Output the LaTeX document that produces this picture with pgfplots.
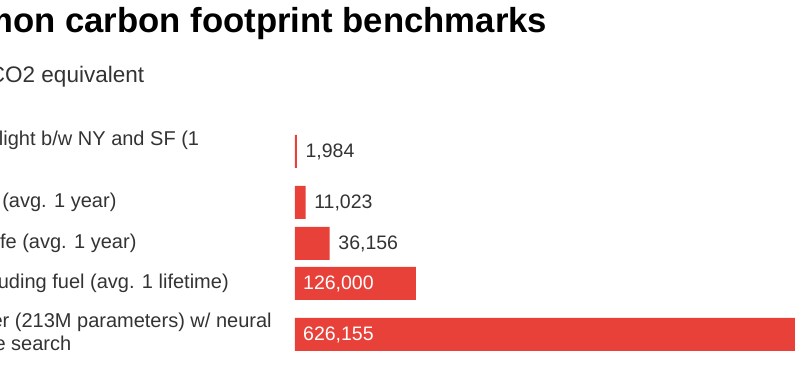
\documentclass[border=0pt]{standalone}
\usepackage{fontspec}
\setmainfont{Liberation Sans}
\usepackage{pgfplots}
\pgfplotsset{compat=1.18}
\usepackage{pgfplotstable}
\definecolor{barred}{HTML}{E8413A}
\definecolor{txt}{HTML}{333333}

\pgfplotstableread{
pos value
233.5 1984
182.5 11023
141.5 36156
101.5 126000
50.5 626155
}\bars

\pgfplotstableread{
pos value lab
233.5 1984 {1,984}
182.5 11023 {11,023}
141.5 36156 {36,156}
}\outside

\pgfplotstableread{
pos value lab
101.5 0 {126,000}
50.5 0 {626,155}
}\inside

\begin{document}
\begin{tikzpicture}[x=1pt,y=1pt]
\useasboundingbox (0,0) rectangle (795,385);
\clip (0,0) rectangle (795,385);
\node[anchor=base west, inner sep=0pt, font=\bfseries\fontsize{34.7}{40}\selectfont] at (-95,352) {Common carbon footprint benchmarks};
\node[anchor=base west, inner sep=0pt, text=txt, font=\fontsize{22.5}{26}\selectfont] at (-95,302) {in lbs of CO2 equivalent};
\begin{axis}[
  at={(295pt,0pt)}, anchor=south west,
  scale only axis, width=672pt, height=385pt,
  xmin=0, xmax=700000, ymin=0, ymax=385,
  clip=false,
  axis line style={draw=none}, tick style={draw=none},
  xtick=\empty,
  ytick={53,101.5,141.5,182.5,233.5},
  yticklabels={{Transformer (213M parameters) w/ neural\\architecture search},
    {US car including fuel (avg. 1 lifetime)},
    {American life (avg. 1 year)},
    {Human life (avg. 1 year)},
    {Roundtrip flight b/w NY and SF (1\\passenger)}},
  yticklabel style={anchor=west, align=left, inner sep=0pt, xshift=-394pt, text=txt,
    font=\fontsize{20}{22.5}\selectfont},
]
\addplot[xbar, bar width=33pt, fill=barred, draw=none] table[x=value, y=pos] {\bars};
\addplot[draw=none, mark=none, nodes near coords, point meta=explicit symbolic,
  nodes near coords style={anchor=west, inner sep=0pt, xshift=8.5pt, text=txt, font=\fontsize{19.5}{22}\selectfont}]
  table[x=value, y=pos, meta=lab] {\outside};
\addplot[draw=none, mark=none, nodes near coords, point meta=explicit symbolic,
  nodes near coords style={anchor=west, inner sep=0pt, xshift=8pt, text=white, font=\fontsize{19.5}{22}\selectfont}]
  table[x=value, y=pos, meta=lab] {\inside};
\end{axis}
\end{tikzpicture}
\end{document}
